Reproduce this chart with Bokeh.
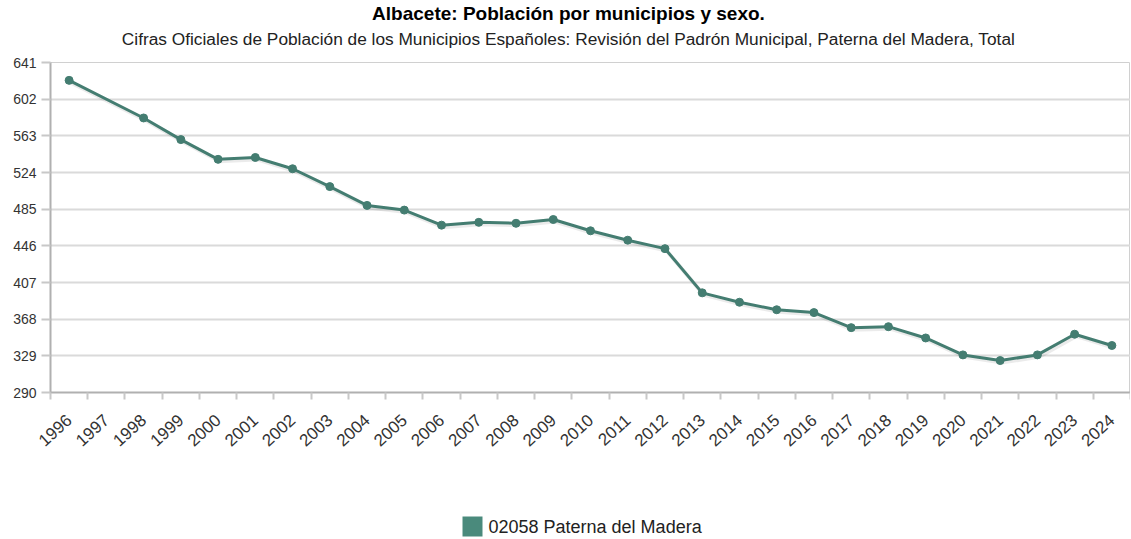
import math
from bokeh.plotting import figure
from bokeh.layouts import column
from bokeh.models import Range1d, FixedTicker, ColumnDataSource
from bokeh.core.properties import value
from bokeh.embed import file_html
from bokeh.resources import INLINE

# ---------------- data ----------------
years = [str(y) for y in range(1996, 2025)]
population = [622, None, 582, 559, 538, 540, 528, 509, 489, 484, 468, 471, 470,
              474, 462, 452, 443, 396, 386, 378, 375, 359, 360, 348, 330, 324,
              330, 352, 340]
y_ticks = [290, 329, 368, 407, 446, 485, 524, 563, 602, 641]
series_name = "02058 Paterna del Madera"
title_text = "Albacete: Población por municipios y sexo."
subtitle_text = ("Cifras Oficiales de Población de los Municipios Españoles: "
                 "Revisión del Padrón Municipal, Paterna del Madera, Total")

# ---------------- style ----------------
LINE_COLOR = "#447d71"
SWATCH_COLOR = "#4a8a7c"
FONT = "Liberation Sans"
W = 1130
LEFT = 50  # frame left edge (frames of the stacked figures are aligned)


def blank(height):
    f = figure(width=W, height=height, output_backend="svg",
               toolbar_location=None, x_axis_location=None,
               y_axis_location=None, x_range=Range1d(LEFT, W),
               y_range=Range1d(0, height), min_border=0,
               min_border_left=LEFT)
    f.grid.visible = False
    f.outline_line_color = None
    return f


# ---------------- title block ----------------
head = blank(50)
head.text(x=[568], y=[37], text=[title_text], text_align="center",
          text_baseline="middle", text_font=value(FONT),
          text_font_style="bold", text_font_size="19px", text_color="#000000")
head.text(x=[568], y=[12], text=[subtitle_text], text_align="center",
          text_baseline="middle", text_font=value(FONT),
          text_font_size="17.3px", text_color="#222222")

# ---------------- main chart ----------------
idx = [i for i, v in enumerate(population) if v is not None]
vals = [population[i] for i in idx]
src = ColumnDataSource(dict(x=idx, y=vals))

p = figure(width=W, height=420, output_backend="svg", toolbar_location=None,
           x_range=Range1d(-0.5, len(years) - 0.5),
           y_range=Range1d(y_ticks[0], y_ticks[-1]),
           min_border_left=LEFT, min_border_right=0, min_border_top=12,
           min_border_bottom=78)
p.outline_line_color = "#d0d0d0"

# faint drop shadow (same data, ranges shifted by a couple of pixels)
px_y = (y_ticks[-1] - y_ticks[0]) / 330.0
px_x = len(years) / 1080.0
p.extra_y_ranges = {"shadow": Range1d(y_ticks[0] + 2 * px_y,
                                      y_ticks[-1] + 2 * px_y)}
p.extra_x_ranges = {"shadow": Range1d(-0.5 - 1.5 * px_x,
                                      len(years) - 0.5 - 1.5 * px_x)}
p.line("x", "y", source=src, line_color="#000000", line_alpha=0.08,
       line_width=4, x_range_name="shadow", y_range_name="shadow")

p.line("x", "y", source=src, line_color=LINE_COLOR, line_width=3)
p.scatter("x", "y", source=src, size=8, fill_color=LINE_COLOR,
          line_color=LINE_COLOR)

xa = p.xaxis[0]
xa.ticker = FixedTicker(ticks=list(range(len(years))),
                        minor_ticks=[i - 0.5 for i in range(len(years) + 1)])
xa.major_label_overrides = {i: y for i, y in enumerate(years)}
xa.major_label_orientation = math.radians(42)
xa.major_tick_out = 0
xa.major_tick_in = 0
xa.major_tick_line_color = None
xa.minor_tick_out = 7
xa.minor_tick_in = 0
xa.minor_tick_line_color = "#c8c8c8"
xa.minor_tick_line_width = 2
xa.axis_line_color = "#b0b0b0"
xa.axis_line_width = 2
xa.major_label_text_font = FONT
xa.major_label_text_font_size = "17px"
xa.major_label_text_color = "#333333"
xa.major_label_standoff = 18

ya = p.yaxis[0]
ya.ticker = FixedTicker(ticks=y_ticks)
ya.minor_tick_line_color = None
ya.major_tick_out = 9
ya.major_tick_in = 0
ya.major_tick_line_color = "#c8c8c8"
ya.major_tick_line_width = 2
ya.axis_line_color = "#b0b0b0"
ya.axis_line_width = 2
ya.major_label_text_font = FONT
ya.major_label_text_font_size = "14px"
ya.major_label_text_color = "#333333"
ya.major_label_standoff = 5

p.xgrid.visible = False
p.ygrid.grid_line_color = "#dadada"
p.ygrid.grid_line_width = 2

# ---------------- legend block ----------------
foot = blank(68)
foot.rect(x=[472], y=[12], width=20, height=20, fill_color=SWATCH_COLOR,
          line_color=None)
foot.text(x=[488], y=[12], text=[series_name], text_align="left",
          text_baseline="middle", text_font=value(FONT),
          text_font_size="18px", text_color="#222222")

layout = column(head, p, foot, spacing=0)
open("out.html", "w").write(file_html(layout, INLINE))
